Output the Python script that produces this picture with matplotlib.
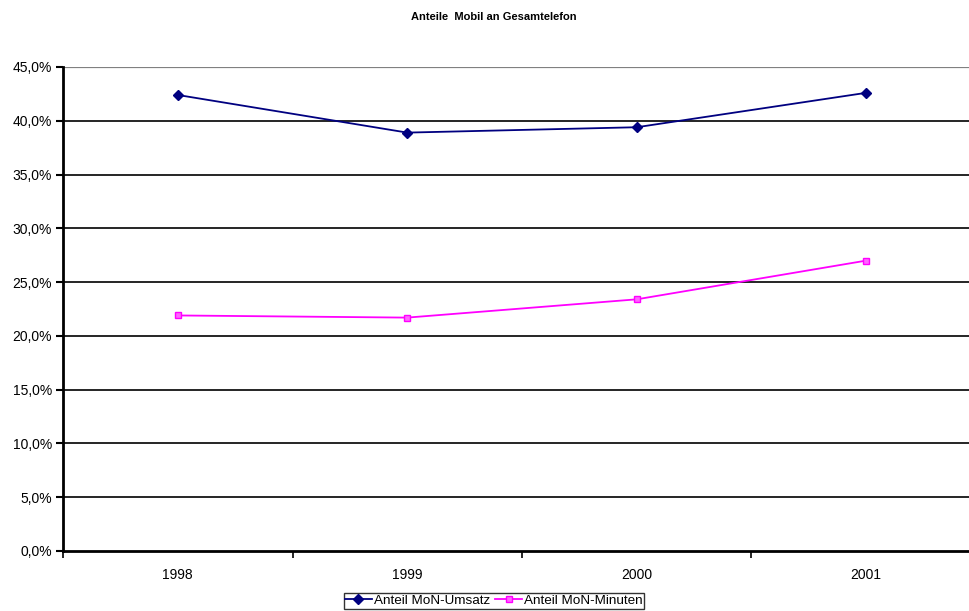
import matplotlib
matplotlib.use("Agg")
import matplotlib.pyplot as plt
import numpy as np
from matplotlib.ticker import FuncFormatter, FixedLocator

plt.rcParams['font.family'] = ['Liberation Sans', 'DejaVu Sans']

years = ["1998", "1999", "2000", "2001"]
umsatz = [42.4, 38.9, 39.4, 42.6]
minuten = [21.9, 21.7, 23.4, 27.0]
title = "Anteile  Mobil an Gesamtelefon"

W, H = 970, 611
fig = plt.figure(figsize=(W/100, H/100), dpi=100)
x0, x1 = 63, 981
ytop, ybot = 67, 551
ax = fig.add_axes([x0/W, (H-ybot)/H, (x1-x0)/W, (ybot-ytop)/H])

x = np.arange(len(years)) + 0.5
ax.plot(x, umsatz, color='#000080', lw=1.3, marker='D', ms=5, mfc='#000080', mec='#000080',
        label='Anteil MoN-Umsatz', clip_on=False)
ax.plot(x, minuten, color='#FF00FF', lw=1.3, marker='s', ms=5, mfc='#FF66FF', mec='#FF00FF',
        label='Anteil MoN-Minuten', clip_on=False)

ax.set_xlim(0, len(years))
ax.set_ylim(0, 45)
ax.yaxis.set_major_locator(FixedLocator(np.arange(0, 46, 5)))
ax.yaxis.set_major_formatter(FuncFormatter(lambda v, p: f"{v:.1f}%".replace('.', ',')))
ax.set_xticks(np.arange(0, len(years)+1))
ax.set_xticklabels([])
ax.set_xticks(x, minor=True)
ax.set_xticklabels(years, minor=True)
ax.tick_params(axis='x', which='minor', length=0, pad=12, labelsize=10)
ax.tick_params(axis='x', which='major', length=5, width=1.2, direction='out')
ax.tick_params(axis='y', length=5, width=1.5, direction='out', labelsize=10, pad=3)

for v in np.arange(5, 41, 5):
    ax.axhline(v, color='black', lw=1.2, zorder=0)
ax.axhline(45, color='#808080', lw=1.6, zorder=0)

for s in ['top', 'right']:
    ax.spines[s].set_visible(False)
ax.spines['left'].set_linewidth(2)
ax.spines['bottom'].set_linewidth(2)

fig.text(494/W, 1 - 17/H, title, ha='center', va='center', fontsize=8, fontweight='bold')

leg = fig.legend(loc='center', bbox_to_anchor=(494/W, 1 - 601/H), ncol=2, frameon=True,
                 fancybox=False, edgecolor='black', fontsize=9.7, handlelength=2.0,
                 handletextpad=0.15, columnspacing=0.4, borderpad=0.1, borderaxespad=0)
leg.get_frame().set_linewidth(1.0)

fig.savefig("out.png", dpi=100)
